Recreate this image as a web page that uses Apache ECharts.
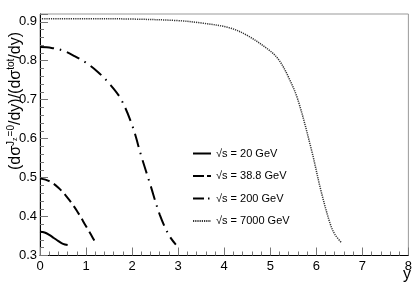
<!DOCTYPE html>
<html><head><meta charset="utf-8">
<script src="https://cdn.jsdelivr.net/npm/echarts@6/dist/echarts.min.js"></script>
<style>html,body{margin:0;padding:0;background:#fff}#c{width:415px;height:283px}</style>
</head><body><div id="c"></div>
<script>
const seriesNames = ['\u221As = 20 GeV', '\u221As = 38.8 GeV', '\u221As = 200 GeV', '\u221As = 7000 GeV'];
const x20 = [0, 0.1, 0.2, 0.3, 0.4, 0.5, 0.6];
const v20 = [0.361, 0.359, 0.353, 0.345, 0.337, 0.330, 0.327];
const x38 = [0, 0.2, 0.4, 0.6, 0.8, 1.0, 1.1, 1.22];
const v38 = [0.498, 0.491, 0.474, 0.448, 0.415, 0.375, 0.355, 0.330];
const x200 = [0, 0.25, 0.5, 0.75, 1.0, 1.25, 1.5, 1.75, 2.0, 2.2, 2.4, 2.6, 2.8, 2.95];
const v200 = [0.835, 0.833, 0.826, 0.812, 0.795, 0.772, 0.742, 0.703, 0.635, 0.555, 0.480, 0.405, 0.352, 0.328];
const x7000 = [0, 1, 2, 3, 3.5, 4.1, 4.5, 5.0, 5.2, 5.4, 5.6, 5.9, 6.1, 6.3, 6.4, 6.54];
const v7000 = [0.908, 0.908, 0.907, 0.903, 0.897, 0.885, 0.865, 0.825, 0.800, 0.757, 0.700, 0.569, 0.467, 0.382, 0.355, 0.334];
const xTicks = [0, 1, 2, 3, 4, 5, 6, 7, 8];
const yTicks = [0.3, 0.4, 0.5, 0.6, 0.7, 0.8, 0.9];

const pairs = (xs, vs) => xs.map((x, i) => [x, vs[i]]);
const FONT = 'Liberation Sans';
const chart = echarts.init(document.getElementById('c'), null, {renderer: 'canvas'});
const styles = [
  {type: 'solid', width: 2},
  {type: [10, 5], width: 2},
  {type: [14, 6, 1.5, 6], width: 2},
  {type: [1.2, 1], width: 1.5}
];
const legendDash = ['solid', [11, 3], [11, 4, 1.5, 4], [1.2, 1]];
const datas = [pairs(x20, v20), pairs(x38, v38), pairs(x200, v200), pairs(x7000, v7000)];
const lineColor = i => (i === 3 ? '#333' : '#000');
chart.setOption({
  animation: false,
  grid: {left: 40, right: 4, top: 14, bottom: 27.5, show: true, borderColor: '#999', borderWidth: 1},
  legend: {
    orient: 'vertical', left: 192, top: 148, padding: 0, itemWidth: 18, itemHeight: 12, itemGap: 11.5,
    data: seriesNames.map((n, i) => ({name: n, lineStyle: {type: legendDash[i]}})),
    itemStyle: {color: 'rgba(0,0,0,0)', borderWidth: 0, opacity: 0},
    textStyle: {fontFamily: FONT, fontSize: 11, color: '#000'}
  },
  xAxis: {
    type: 'value', min: xTicks[0], max: xTicks[xTicks.length - 1], interval: 1,
    axisLine: {lineStyle: {color: '#000', width: 1}},
    axisTick: {inside: true, length: 8, lineStyle: {color: '#777'}},
    minorTick: {show: true, splitNumber: 5, length: 4, lineStyle: {color: '#777'}},
    splitLine: {show: false},
    axisLabel: {fontFamily: FONT, fontSize: 13, color: '#000', margin: 4,
      formatter: v => xTicks.includes(v) ? String(v) : ''}
  },
  yAxis: {
    type: 'value', min: 0.3, max: 0.92, interval: 0.1,
    axisLine: {lineStyle: {color: '#000', width: 1}},
    axisTick: {inside: true, length: 8, lineStyle: {color: '#777'}},
    minorTick: {show: true, splitNumber: 5, length: 4, lineStyle: {color: '#777'}},
    splitLine: {show: false},
    axisLabel: {fontFamily: FONT, fontSize: 13, color: '#000', margin: 3,
      formatter: v => { const t = yTicks.find(k => Math.abs(k - v) < 1e-6); return t !== undefined ? t.toFixed(1) : ''; }}
  },
  series: seriesNames.map((n, i) => ({
    name: n, type: 'line', smooth: 0.35, showSymbol: false, symbol: 'none',
    data: datas[i],
    lineStyle: Object.assign({color: lineColor(i)}, styles[i]),
    itemStyle: {color: lineColor(i)}
  })),
  graphic: [
    {type: 'text', x: 15, y: 101, rotation: Math.PI / 2,
      style: {
        text: '{n|(d\u03C3}{s|J}{ss|z}{s|=0}{n|/dy)/(d\u03C3}{s|tot}{n|/dy)}',
        align: 'center', verticalAlign: 'middle',
        rich: {
          n: {fontFamily: FONT, fontSize: 16, color: '#000', lineHeight: 17, verticalAlign: 'bottom'},
          s: {fontFamily: FONT, fontSize: 10, color: '#000', lineHeight: 17, verticalAlign: 'top'},
          ss: {fontFamily: FONT, fontSize: 7, color: '#000', lineHeight: 17, verticalAlign: 'top', padding: [5, 1, 0, 0]}
        }
      }},
    {type: 'text', x: 411, y: 283, style: {text: 'y', fontFamily: FONT, fontSize: 16, fill: '#000', align: 'right', verticalAlign: 'bottom'}}
  ]
});
</script></body></html>
